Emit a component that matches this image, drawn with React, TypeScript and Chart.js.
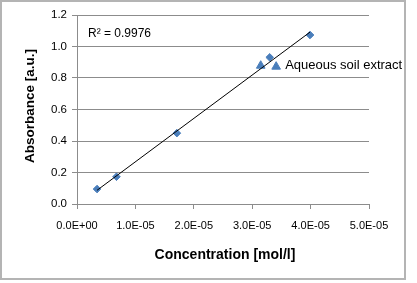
import React, { useEffect, useRef } from "react";
import { Chart, registerables } from "chart.js";

Chart.register(...registerables);

// Calibration standards (concentration mol/l, absorbance a.u.)
const standardConc = [3.43e-6, 6.76e-6, 1.71e-5, 3.3e-5, 3.99e-5];
const standardAbs = [0.095, 0.173, 0.45, 0.931, 1.073];
// Aqueous soil extract samples
const extractConc = [3.146e-5, 3.41e-5];
const extractAbs = [0.878, 0.872];

const yTicks = [0, 0.2, 0.4, 0.6, 0.8, 1.0, 1.2];
const xTicks = [0, 1e-5, 2e-5, 3e-5, 4e-5, 5e-5];
const r2Label = "R\u00B2 = 0.9976";
const extractLabel = "Aqueous soil extract";
const xTitle = "Concentration [mol/l]";
const yTitle = "Absorbance [a.u.]";

const FONT = "'Liberation Sans', Arial, sans-serif";
const BLUE = "#4a7ebb";
const GRID = "#8c8c8c";

function fmtExp(v: number): string {
  if (Math.abs(v) < 1e-12) return "0.0E+00";
  const e = Math.floor(Math.log10(Math.abs(v)) + 1e-9);
  const m = v / Math.pow(10, e);
  const sign = e < 0 ? "-" : "+";
  const ae = Math.abs(e);
  return m.toFixed(1) + "E" + sign + (ae < 10 ? "0" + ae : String(ae));
}

function regression(xs: number[], ys: number[]) {
  const n = xs.length;
  const mx = xs.reduce((a, b) => a + b, 0) / n;
  const my = ys.reduce((a, b) => a + b, 0) / n;
  let sxy = 0;
  let sxx = 0;
  for (let i = 0; i < n; i++) {
    sxy += (xs[i] - mx) * (ys[i] - my);
    sxx += (xs[i] - mx) * (xs[i] - mx);
  }
  const slope = sxy / sxx;
  return { slope, intercept: my - slope * mx };
}

export default function App() {
  const ref = useRef<HTMLCanvasElement | null>(null);

  useEffect(() => {
    document.body.style.margin = "0";
    const canvas = ref.current;
    if (!canvas) return;
    const { slope, intercept } = regression(standardConc, standardAbs);
    const xMin = Math.min(...standardConc);
    const xMax = Math.max(...standardConc);
    const trend = [
      { x: xMin, y: slope * xMin + intercept },
      { x: xMax, y: slope * xMax + intercept },
    ];

    const textPlugin = {
      id: "texts",
      afterDraw(chart: any) {
        const ctx = chart.ctx;
        const xs = chart.scales.x;
        const ys = chart.scales.y;
        ctx.save();
        ctx.fillStyle = "#000";
        // axis titles
        ctx.font = "bold 14px " + FONT;
        ctx.textAlign = "center";
        ctx.textBaseline = "middle";
        ctx.fillText(xTitle, 225, 255);
        ctx.save();
        ctx.translate(30, 106);
        ctx.rotate(-Math.PI / 2);
        ctx.font = "bold 13.5px " + FONT;
        ctx.fillText(yTitle, 0, 0);
        ctx.restore();
        // R² label
        ctx.font = "12px " + FONT;
        ctx.textAlign = "left";
        ctx.fillText(r2Label, 88, 33.5);
        // extract label
        const lx = xs.getPixelForValue(extractConc[1]) + 9;
        const ly = ys.getPixelForValue(extractAbs[1]);
        ctx.font = "13px " + FONT;
        ctx.fillText(extractLabel, lx, ly - 1);
        ctx.restore();
      },
    };

    const borderPlugin = {
      id: "outerBorder",
      afterDraw(chart: any) {
        const ctx = chart.ctx;
        ctx.save();
        ctx.strokeStyle = "#b4b4b4";
        ctx.lineWidth = 2;
        ctx.strokeRect(1, 1, 404, 278);
        ctx.restore();
      },
    };

    const chart = new Chart(canvas, {
      type: "scatter",
      data: {
        datasets: [
          {
            label: "Standards",
            data: standardConc.map((x, i) => ({ x, y: standardAbs[i] })),
            pointStyle: "rectRot",
            pointRadius: 3.8,
            backgroundColor: BLUE,
            borderColor: BLUE,
            borderWidth: 1,
            order: 2,
          },
          {
            label: "Aqueous soil extract",
            data: extractConc.map((x, i) => ({ x, y: extractAbs[i] })),
            pointStyle: "triangle",
            pointRadius: 5,
            backgroundColor: BLUE,
            borderColor: BLUE,
            borderWidth: 1,
            order: 2,
          },
          {
            type: "line",
            label: "Trend",
            data: trend,
            borderColor: "#000",
            borderWidth: 1,
            pointRadius: 0,
            fill: false,
            order: 1,
          } as any,
        ],
      },
      options: {
        responsive: false,
        animation: false,
        devicePixelRatio: 1,
        layout: { padding: { left: 0, right: 48, top: 15, bottom: 0 } },
        plugins: {
          legend: { display: false },
          tooltip: { enabled: false },
        },
        scales: {
          x: {
            type: "linear",
            min: 0,
            max: 5e-5,
            afterFit(scale: any) {
              scale.height = 79;
            },
            afterBuildTicks(scale: any) {
              scale.ticks = xTicks.map((v) => ({ value: v }));
            },
            ticks: {
              callback: (v: any) => fmtExp(Number(v)),
              font: { family: FONT, size: 11 },
              color: "#000",
              padding: 10,
              maxRotation: 0,
              autoSkip: false,
            },
            grid: {
              drawOnChartArea: false,
              drawTicks: true,
              tickLength: 5,
              color: GRID,
            },
            border: { color: GRID, width: 1 },
          },
          y: {
            type: "linear",
            min: 0,
            max: 1.2,
            afterFit(scale: any) {
              scale.width = 77;
            },
            afterBuildTicks(scale: any) {
              scale.ticks = yTicks.map((v) => ({ value: v }));
            },
            ticks: {
              callback: (v: any) => Number(v).toFixed(1),
              font: { family: FONT, size: 11.5 },
              color: "#000",
              padding: 5,
              autoSkip: false,
            },
            grid: {
              drawTicks: true,
              tickLength: 5,
              color: GRID,
            },
            border: { color: GRID, width: 1 },
          },
        },
      },
      plugins: [textPlugin, borderPlugin],
    });
    return () => chart.destroy();
  }, []);

  return (
    <div style={{ width: 417, height: 283, background: "#fff" }}>
      <canvas ref={ref} width={417} height={283} style={{ display: "block" }} />
    </div>
  );
}
